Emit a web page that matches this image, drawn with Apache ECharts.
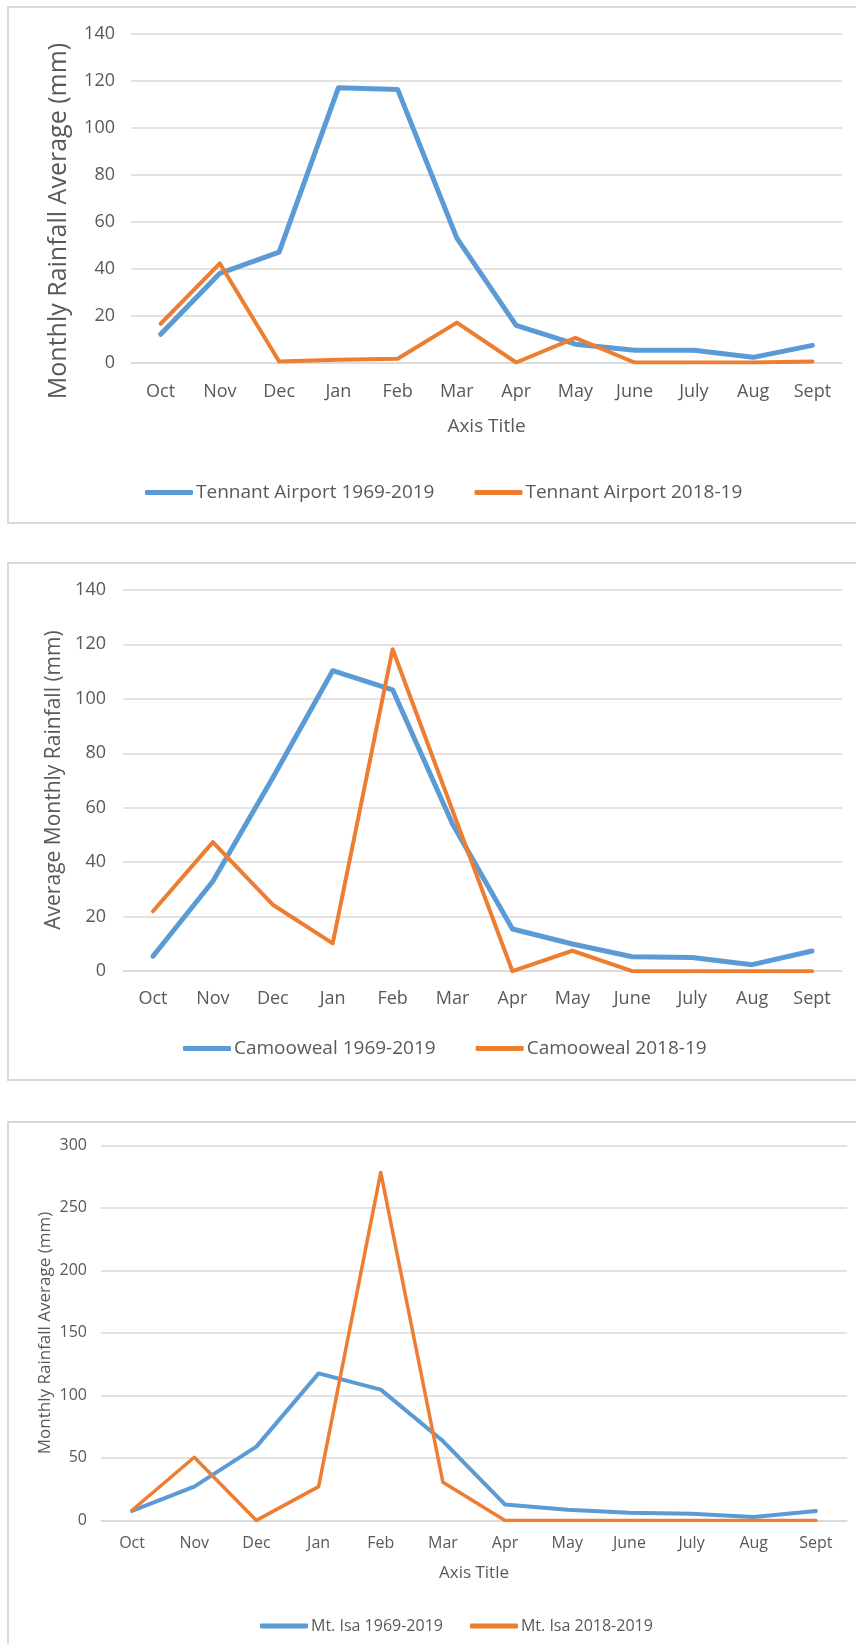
<!DOCTYPE html>
<html>
<head>
<meta charset="utf-8">
<script src="https://cdn.jsdelivr.net/npm/echarts@6/dist/echarts.min.js"></script>
<style>
html,body{margin:0;padding:0;background:#fff;}
#c{width:856px;height:1644px;}
</style>
</head>
<body>
<div id="c"></div>
<script>
// ---- data ----
const months = ['Oct','Nov','Dec','Jan','Feb','Mar','Apr','May','June','July','Aug','Sept'];

const tennantLongName = 'Tennant Airport 1969-2019';
const tennantRecentName = 'Tennant Airport 2018-19';
const tennantLong = [12, 38, 47, 117, 116.3, 53, 15.8, 7.8, 5.2, 5.2, 2.2, 7.3];
const tennantRecent = [16.5, 42.2, 0.4, 1.2, 1.6, 17, 0, 10.5, 0, 0, 0, 0.4];

const camooLongName = 'Camooweal 1969-2019';
const camooRecentName = 'Camooweal 2018-19';
const camooLong = [5.5, 33, 71, 110.3, 103.3, 54, 15.5, 10, 5.3, 5, 2.4, 7.4];
const camooRecent = [22, 47.4, 24.4, 10.2, 118.2, 59, 0, 7.5, 0, 0, 0, 0];

const isaLongName = 'Mt. Isa 1969-2019';
const isaRecentName = 'Mt. Isa 2018-2019';
const isaLong = [7.6, 27, 59, 117.6, 104.6, 63.5, 12.7, 8.6, 6.2, 5.4, 2.7, 7.6];
const isaRecent = [8.1, 50.5, 0, 27, 278.4, 30.5, 0, 0, 0, 0, 0, 0];

const yTitle1 = 'Monthly Rainfall Average (mm)';
const yTitle2 = 'Average Monthly Rainfall (mm)';
const yTitle3 = 'Monthly Rainfall Average (mm)';
const xTitle = 'Axis Title';

// ---- style ----
const FONT = '"Open Sans", "Noto Sans", sans-serif';
const TXT = '#595959';
const GRID = '#d9d9d9';
const BLUE = '#5b9bd5';
const ORANGE = '#ed7d31';

function xAxisCfg(idx, fs, margin, name, nameGap) {
  return {
    type: 'category', gridIndex: idx, data: months, boundaryGap: true,
    axisLine: {show: true, lineStyle: {color: GRID, width: 1.5}},
    axisTick: {show: false},
    axisLabel: {color: TXT, fontFamily: FONT, fontSize: fs, margin: margin},
    name: name || '', nameLocation: 'middle', nameGap: nameGap || 0,
    nameTextStyle: {color: TXT, fontFamily: FONT, fontSize: fs + 1}
  };
}
function yAxisCfg(idx, max, interval, fs, margin) {
  return {
    type: 'value', gridIndex: idx, min: 0, max: max, interval: interval,
    axisLine: {show: false}, axisTick: {show: false},
    splitLine: {lineStyle: {color: GRID, width: 1.5}},
    axisLabel: {color: TXT, fontFamily: FONT, fontSize: fs, margin: margin}
  };
}
function yTitle(text, x, y, fs) {
  return {
    type: 'text', x: x, y: y, rotation: Math.PI / 2, silent: true,
    style: {text: text, fill: TXT, font: fs + 'px ' + FONT, align: 'center', verticalAlign: 'middle'}
  };
}
function lineSeries(name, data, idx, color, width) {
  return {
    type: 'line', name: name, data: data, xAxisIndex: idx, yAxisIndex: idx,
    symbol: 'none', smooth: false, animation: false,
    lineStyle: {color: color, width: width, cap: 'round', join: 'round'},
    itemStyle: {color: color}
  };
}
function legendCfg(names, left, top, fs, gap) {
  return {
    data: names, left: left, top: top, orient: 'horizontal',
    icon: 'roundRect', itemWidth: 48, itemHeight: 5, itemGap: gap,
    textStyle: {color: TXT, fontFamily: FONT, fontSize: fs, padding: [0,0,0,-2]},
    selectedMode: false
  };
}

const chart = echarts.init(document.getElementById('c'), null, {renderer: 'canvas'});
chart.setOption({
  animation: false,
  backgroundColor: '#fff',
  graphic: [
    {type: 'rect', shape: {x: 8, y: 7, width: 900, height: 516}, style: {fill: 'none', stroke: GRID, lineWidth: 2}, silent: true, z: -1},
    {type: 'rect', shape: {x: 8, y: 563, width: 900, height: 517}, style: {fill: 'none', stroke: GRID, lineWidth: 2}, silent: true, z: -1},
    {type: 'rect', shape: {x: 8, y: 1122, width: 900, height: 600}, style: {fill: 'none', stroke: GRID, lineWidth: 2}, silent: true, z: -1},
    yTitle(yTitle1, 59, 221, 25),
    yTitle(yTitle2, 54, 780, 21),
    yTitle(yTitle3, 45, 1333, 17)
  ],
  grid: [
    {left: 131, right: 14, top: 33.8, height: 328.7, outerBoundsMode: 'none'},
    {left: 123, right: 14, top: 589.8, height: 381.4, outerBoundsMode: 'none'},
    {left: 101, right: 9, top: 1145.4, height: 375, outerBoundsMode: 'none'}
  ],
  xAxis: [
    xAxisCfg(0, 18, 20, xTitle, 55),
    xAxisCfg(1, 18, 19),
    xAxisCfg(2, 16, 15, xTitle, 44)
  ],
  yAxis: [
    yAxisCfg(0, 140, 20, 18, 16),
    yAxisCfg(1, 140, 20, 18, 17),
    yAxisCfg(2, 300, 50, 16, 14)
  ],
  legend: [
    legendCfg([tennantLongName, tennantRecentName], 140, 478, 19, 40),
    legendCfg([camooLongName, camooRecentName], 178, 1034, 19, 40),
    legendCfg([isaLongName, isaRecentName], 255, 1613, 16, 27)
  ],
  series: [
    lineSeries(tennantLongName, tennantLong, 0, BLUE, 5),
    lineSeries(tennantRecentName, tennantRecent, 0, ORANGE, 4),
    lineSeries(camooLongName, camooLong, 1, BLUE, 5),
    lineSeries(camooRecentName, camooRecent, 1, ORANGE, 4),
    lineSeries(isaLongName, isaLong, 2, BLUE, 4),
    lineSeries(isaRecentName, isaRecent, 2, ORANGE, 3.5)
  ]
});
</script>
</body>
</html>
